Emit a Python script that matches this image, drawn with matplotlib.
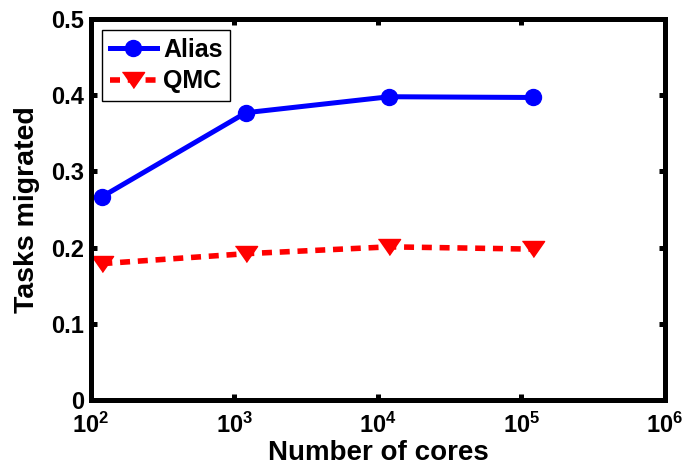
import matplotlib
matplotlib.use("Agg")
import matplotlib.pyplot as plt
from matplotlib.ticker import FixedLocator, NullLocator

# ---- data ----
cores = [120, 1200, 12000, 120000]
alias = [0.267, 0.377, 0.398, 0.397]
qmc = [0.179, 0.192, 0.201, 0.198]
series_names = ["Alias", "QMC"]
xticks = [1e2, 1e3, 1e4, 1e5, 1e6]
xtick_labels = [r"$\mathbf{10^{2}}$", r"$\mathbf{10^{3}}$", r"$\mathbf{10^{4}}$",
                r"$\mathbf{10^{5}}$", r"$\mathbf{10^{6}}$"]
yticks = [0, 0.1, 0.2, 0.3, 0.4, 0.5]
ytick_labels = ["0", "0.1", "0.2", "0.3", "0.4", "0.5"]
xlabel = "Number of cores"
ylabel = "Tasks migrated"

plt.rcParams['font.family'] = ['Liberation Sans', 'DejaVu Sans']
plt.rcParams['font.weight'] = 'bold'
plt.rcParams['mathtext.fontset'] = 'custom'
plt.rcParams['mathtext.rm'] = 'Liberation Sans:bold'
plt.rcParams['mathtext.bf'] = 'Liberation Sans:bold'
plt.rcParams['mathtext.it'] = 'Liberation Sans:bold'

fig = plt.figure(figsize=(6.83, 4.67), dpi=100)
ax = fig.add_axes([0.1332, 0.1435, 0.9736 - 0.1332, 0.9593 - 0.1435])

tri = [(-1, 0.72), (1, 0.72), (0, -0.72)]
ax.plot(cores, alias, color=(0, 0, 1), lw=3.6, marker='o', ms=11.5,
        label=series_names[0])
ax.plot(cores, qmc, color=(1, 0, 0), lw=4, linestyle=(0, (1.8, 1.4)),
        marker=tri, ms=16, label=series_names[1])

ax.set_xscale('log')
ax.set_xlim(1e2, 1e6)
ax.set_ylim(0, 0.5)
ax.xaxis.set_major_locator(FixedLocator(xticks))
ax.xaxis.set_minor_locator(NullLocator())
ax.set_xticklabels(xtick_labels, fontsize=17)
ax.set_yticks(yticks)
ax.set_yticklabels(ytick_labels, fontsize=17, fontweight='bold')

for sp in ax.spines.values():
    sp.set_linewidth(3.6)
ax.tick_params(which='both', direction='in', length=4, width=3.6,
               top=True, right=True)
ax.tick_params(axis='y', pad=5)
ax.tick_params(axis='x', pad=9.5)

ax.set_xlabel(xlabel, fontsize=20, fontweight='bold', labelpad=1)
ax.set_ylabel(ylabel, fontsize=20.5, fontweight='bold', labelpad=8)

leg = ax.legend(loc='upper left', fontsize=18, frameon=True, fancybox=False,
                edgecolor='black', framealpha=1, handlelength=1.9,
                handletextpad=0.25, borderpad=0.3, labelspacing=0.3,
                borderaxespad=0.45)
leg.get_frame().set_linewidth(1.0)
for t in leg.get_texts():
    t.set_fontweight('bold')

fig.savefig("out.png", dpi=100)
